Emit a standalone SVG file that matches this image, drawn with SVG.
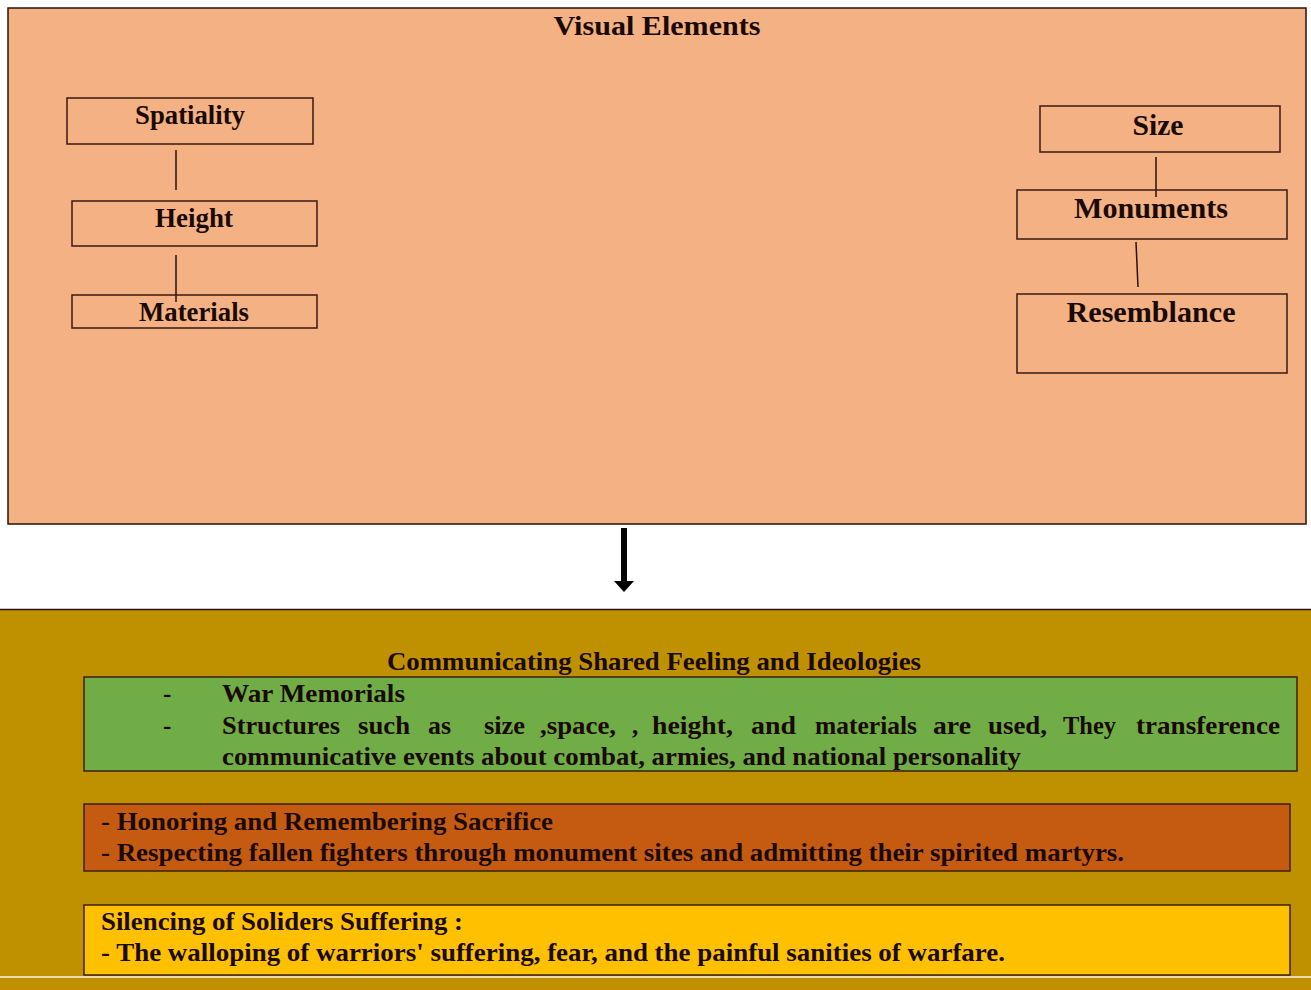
<svg xmlns="http://www.w3.org/2000/svg" width="1311" height="990" viewBox="0 0 1311 990">
<defs>
<style>
.t{font-family:"Liberation Serif","Times New Roman",serif;font-weight:bold;fill:#1a0a05}
.node{fill:none;stroke:#3a1a10;stroke-width:1.5}
.conn{stroke:#2a1208;stroke-width:1.5;fill:none}
.box{stroke:#3a2010;stroke-width:1.5}
</style>
</defs>
<rect width="1311" height="990" fill="#fff"/>
<g id="visual-elements">
<rect x="8" y="8" width="1298" height="516" fill="#F4B183" stroke="#2a1208" stroke-width="1.5"/>
<text class="t" x="657" y="35" font-size="28" text-anchor="middle" textLength="207" lengthAdjust="spacingAndGlyphs">Visual Elements</text>
</g>
<g id="connectors">
<line class="conn" x1="176" y1="150" x2="176" y2="190"/>
<line class="conn" x1="176" y1="255" x2="176" y2="302"/>
<line class="conn" x1="1156" y1="157" x2="1156" y2="197"/>
<line class="conn" x1="1136" y1="242" x2="1138" y2="287"/>
<line x1="624" y1="528" x2="624" y2="582" stroke="#000" stroke-width="6"/>
<path d="M614,581 L634,581 L624,592 Z" fill="#000"/>
</g>
<g id="spatiality">
<rect class="node" x="67" y="98" width="246" height="46"/>
<text class="t" x="190" y="124" font-size="27" text-anchor="middle" textLength="110" lengthAdjust="spacingAndGlyphs">Spatiality</text>
</g>
<g id="height">
<rect class="node" x="72" y="201" width="245" height="45"/>
<text class="t" x="194" y="227" font-size="27" text-anchor="middle" textLength="78" lengthAdjust="spacingAndGlyphs">Height</text>
</g>
<g id="materials">
<rect class="node" x="72" y="295" width="245" height="33"/>
<text class="t" x="194" y="321" font-size="27" text-anchor="middle" textLength="110" lengthAdjust="spacingAndGlyphs">Materials</text>
</g>
<g id="size">
<rect class="node" x="1040" y="106" width="240" height="46"/>
<text class="t" x="1158" y="135" font-size="29" text-anchor="middle" textLength="51" lengthAdjust="spacingAndGlyphs">Size</text>
</g>
<g id="monuments">
<rect class="node" x="1017" y="190" width="270" height="49"/>
<text class="t" x="1151" y="218" font-size="29" text-anchor="middle" textLength="154" lengthAdjust="spacingAndGlyphs">Monuments</text>
</g>
<g id="resemblance">
<rect class="node" x="1017" y="294" width="270" height="79"/>
<text class="t" x="1151" y="322" font-size="29" text-anchor="middle" textLength="169" lengthAdjust="spacingAndGlyphs">Resemblance</text>
</g>
<g id="communicating">
<rect x="0" y="609" width="1311" height="381" fill="#BF9000"/>
<line x1="0" y1="609.5" x2="1311" y2="609.5" stroke="#2a1208" stroke-width="1.5"/>
<line x1="0" y1="977" x2="1311" y2="977" stroke="#e9dcae" stroke-width="2"/>
<text class="t" x="654" y="670" font-size="25" text-anchor="middle" textLength="534" lengthAdjust="spacingAndGlyphs">Communicating Shared Feeling and Ideologies</text>
</g>
<g id="war-memorials">
<rect class="box" x="84" y="677" width="1213" height="94" fill="#70AD47"/>
<text class="t" x="163" y="702" font-size="25">-</text>
<text class="t" x="222" y="702" font-size="25" textLength="183" lengthAdjust="spacingAndGlyphs">War Memorials</text>
<text class="t" x="163" y="734" font-size="25">-</text>
<text class="t" y="734" font-size="25"><tspan x="222" textLength="118" lengthAdjust="spacingAndGlyphs">Structures</tspan><tspan x="358" textLength="52" lengthAdjust="spacingAndGlyphs">such</tspan><tspan x="428" textLength="23" lengthAdjust="spacingAndGlyphs">as</tspan><tspan x="484" textLength="41" lengthAdjust="spacingAndGlyphs">size</tspan><tspan x="540" textLength="76" lengthAdjust="spacingAndGlyphs">,space,</tspan><tspan x="632">,</tspan><tspan x="652" textLength="81" lengthAdjust="spacingAndGlyphs">height,</tspan><tspan x="751" textLength="45" lengthAdjust="spacingAndGlyphs">and</tspan><tspan x="815" textLength="102" lengthAdjust="spacingAndGlyphs">materials</tspan><tspan x="933" textLength="38" lengthAdjust="spacingAndGlyphs">are</tspan><tspan x="988" textLength="59" lengthAdjust="spacingAndGlyphs">used,</tspan><tspan x="1063" textLength="53" lengthAdjust="spacingAndGlyphs">They</tspan><tspan x="1136" textLength="144" lengthAdjust="spacingAndGlyphs">transference</tspan></text>
<text class="t" x="222" y="765" font-size="25" textLength="799" lengthAdjust="spacingAndGlyphs">communicative events about combat, armies, and national personality</text>
</g>
<g id="honoring">
<rect class="box" x="84" y="804" width="1206" height="67" fill="#C55A11"/>
<text class="t" x="101" y="830" font-size="26" textLength="452" lengthAdjust="spacingAndGlyphs">- Honoring and Remembering Sacrifice</text>
<text class="t" x="101" y="861" font-size="26" textLength="1023" lengthAdjust="spacingAndGlyphs">- Respecting fallen fighters through monument sites and admitting their spirited martyrs.</text>
</g>
<g id="silencing">
<rect class="box" x="84" y="905" width="1206" height="70" fill="#FFC000"/>
<text class="t" x="101" y="930" font-size="26" textLength="362" lengthAdjust="spacingAndGlyphs">Silencing of Soliders Suffering :</text>
<text class="t" x="101" y="961" font-size="26" textLength="904" lengthAdjust="spacingAndGlyphs">- The walloping of warriors' suffering, fear, and the painful sanities of warfare.</text>
</g>
</svg>
